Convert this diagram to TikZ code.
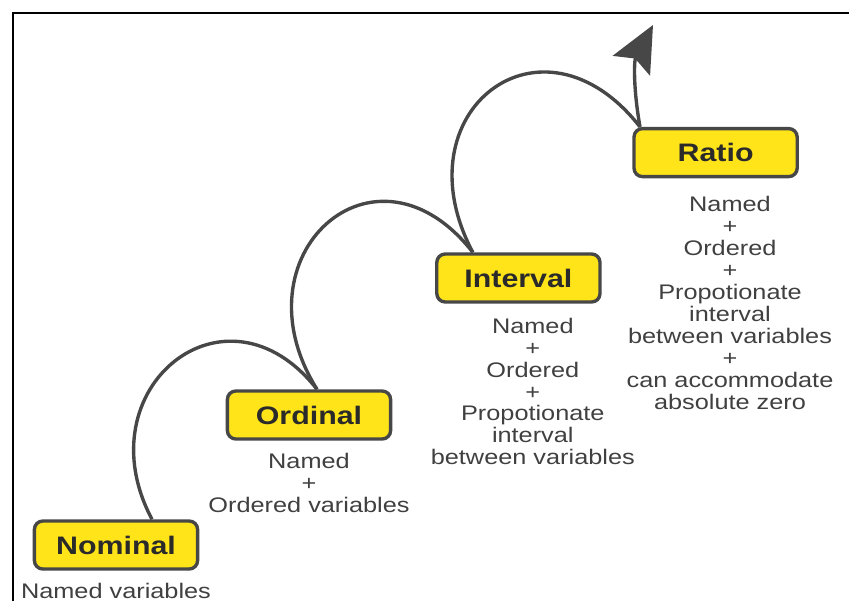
\documentclass[tikz,border=0pt]{standalone}
\usepackage{fontspec}
\setmainfont{Liberation Sans}
\usepackage{xcolor}
\definecolor{levelfill}{HTML}{FFE419}
\definecolor{edgegrey}{HTML}{474747}
\definecolor{inkgrey}{HTML}{2A2A2A}
\definecolor{notegrey}{HTML}{404040}
\usetikzlibrary{positioning,arrows.meta}

\begin{document}
\begin{tikzpicture}[
    level/.style={draw=edgegrey, line width=2.4pt, fill=levelfill, rounded corners=6pt,
      minimum width=3.4cm, minimum height=1.2cm, text=inkgrey,
      font=\fontsize{18}{20}\selectfont\bfseries, xscale=1.2},
    note/.style={align=center, inner sep=0pt, text=notegrey,
      font=\fontsize{15}{15.6}\selectfont, xscale=1.2},
    climb/.style={draw=edgegrey, line width=2.4pt}
]
  \useasboundingbox (0,0) rectangle (21.225,15.025);
  % Frame
  \draw[line width=1.8pt] (0.325,0) |- (21.225,14.7);

  % Levels
  \node[level] (nominal) at (2.9, 1.4) {Nominal};
  \node[level] (ordinal) at (7.725, 4.65) {Ordinal};
  \node[level] (interval) at (12.96, 8.075) {Interval};
  \node[level] (ratio) at (17.89, 11.21) {Ratio};

  % What each level carries
  \node[note, below=0.3cm of nominal] (nominal-note) {Named variables};
  \node[note, below=0.3cm of ordinal] (ordinal-note) {Named\\+\\Ordered variables};
  \node[note, below=0.35cm of interval, xshift=0.3cm] (interval-note)
    {Named\\+\\Ordered\\+\\Propotionate\\interval\\between variables};
  \node[note, below=0.45cm of ratio, xshift=0.3cm] (ratio-note)
    {Named\\+\\Ordered\\+\\Propotionate\\interval\\between variables\\+\\can accommodate\\absolute zero};

  % Loops between levels
  \coordinate (top) at (16.325, 14.4);
  \draw[climb] ([xshift=0.9cm]nominal.north) to[out=118, in=128, looseness=1.8] ([xshift=0.2cm]ordinal.north);
  \draw[climb] ([xshift=0.2cm]ordinal.north) to[out=122, in=128, looseness=1.95] ([xshift=-1.14cm]interval.north);
  \draw[climb] ([xshift=-1.14cm]interval.north) to[out=118, in=128, looseness=1.95] ([xshift=-1.89cm]ratio.north);
  \draw[climb, -{Stealth[length=1.15cm, width=1.05cm, inset=2mm]}] ([xshift=-1.89cm]ratio.north) to[out=100, in=242] (top);
\end{tikzpicture}
\end{document}
